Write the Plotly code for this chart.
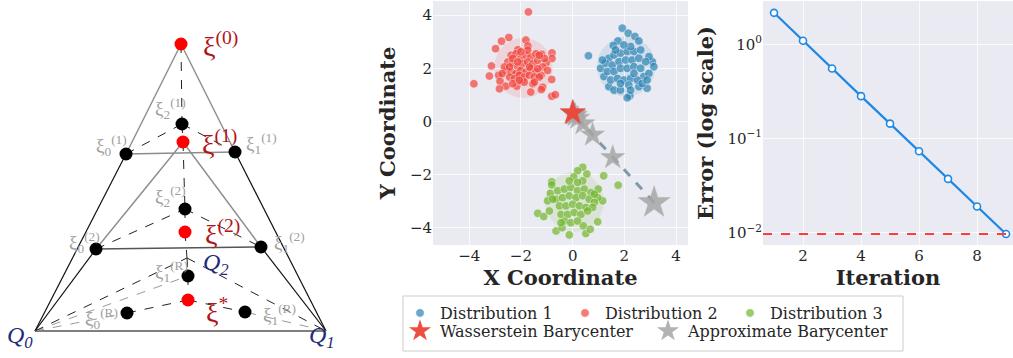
import plotly.graph_objects as go

# ---------------- data: scatter clusters ----------------
d1_x = [1.92, 2.15, 2.41, 2.56, 1.75, 1.57, 0.61, 1.08, 1.21, 1.40, 1.60, 1.85, 2.21, 2.11, 2.56, 2.88,
        3.08, 3.14, 2.95, 2.75, 2.95, 1.40, 1.60, 1.85, 2.11, 2.37, 2.63, 1.27, 1.53, 1.79, 2.05, 2.30,
        2.56, 2.82, 1.34, 1.60, 1.85, 2.11, 2.37, 2.63, 1.47, 1.73, 1.98, 2.24, 2.50, 2.69, 1.85, 2.17,
        2.37, 1.66, 2.24, 1.98, 1.15, 2.88, 2.24]
d1_y = [3.51, 3.32, 3.20, 3.03, 3.03, 2.86, 2.47, 2.00, 1.69, 1.31, 1.18, 1.18, 0.97, 0.89, 1.31, 1.25,
        2.25, 2.06, 2.44, 1.69, 1.81, 2.38, 2.50, 2.57, 2.63, 2.63, 2.69, 2.19, 2.12, 2.25, 2.31, 2.31,
        2.38, 2.25, 1.88, 1.88, 2.00, 2.00, 2.06, 2.00, 1.56, 1.62, 1.56, 1.62, 1.56, 1.43, 1.43, 1.37,
        1.81, 2.69, 2.82, 2.88, 2.31, 1.56, 1.18]

d2_x = [-1.71, -2.47, -2.75, -1.81, -2.98, -1.73, -2.12, -0.80, -0.80, -1.20, -3.14, -1.02, -3.22, -3.82,
        -2.86, -2.81, -2.58, -2.83, -2.16, -1.62, -1.16, -1.21, -0.81, -0.81, -0.67, -2.00, -1.94,
        -2.38, -2.19, -2.00, -1.80, -1.61, -1.42, -2.51, -2.32, -2.12, -1.93, -1.74, -1.54, -1.35, -1.16,
        -2.57, -2.38, -2.19, -2.00, -1.80, -1.61, -1.42, -1.22, -2.44, -2.25, -2.06, -1.87, -1.67, -1.48,
        -1.29, -2.64, -1.35, -1.54, -1.87, -2.32, -2.73, -1.74, -2.00, -2.32, -0.97, -1.09, -2.12, -1.67,
        -2.44, -1.48, -2.06, -1.29]
d2_y = [4.12, 3.16, 3.02, 3.06, 2.74, 2.84, 2.70, 2.58, 2.37, 2.53, 2.09, 2.21, 1.71, 1.42,
        1.74, 1.51, 1.33, 1.23, 1.33, 1.11, 1.29, 1.20, 1.58, 0.95, 1.01, 1.51, 1.58,
        2.49, 2.55, 2.37, 2.49, 2.43, 2.55, 2.24, 2.18, 2.05, 2.18, 2.24, 2.18, 2.30, 2.05,
        1.92, 1.86, 1.80, 1.92, 1.86, 1.99, 1.86, 1.74, 1.67, 1.61, 1.74, 1.67, 1.74, 1.67,
        1.67, 2.05, 1.99, 1.42, 1.48, 1.42, 1.80, 2.68, 2.62, 2.37, 1.92, 2.37, 2.24, 2.05,
        2.05, 1.48, 1.55, 2.49]

d3_x = [0.39, 0.19, 0.55, 0.04, 1.20, 1.76, -0.81, -0.81, -1.35, -1.12, -0.90, -0.64, -0.41, -0.13,
        0.51, 0.41, 0.68, 0.97, 1.16, 0.97, 0.99, -0.86, -0.97, -0.58, -0.32, -0.07, 0.19, 0.45, 0.71,
        -0.64, -0.39, -0.13, 0.13, 0.39, 0.64, 0.84, -0.51, -0.26, 0.00, 0.26, 0.51, 0.77, -0.45, -0.19,
        0.06, 0.32, 0.58, -0.32, -0.07, 0.19, -0.45, 0.39, -0.13, 0.19, -0.77, 0.84]
d3_y = [-1.72, -1.85, -1.97, -2.08, -2.04, -2.39, -2.26, -2.38, -3.45, -3.57, -3.36, -4.11, -3.99, -4.26,
        -4.21, -3.92, -4.05, -3.77, -2.98, -2.86, -2.54, -2.70, -2.98, -2.60, -2.54, -2.48, -2.60, -2.54,
        -2.67, -2.92, -2.86, -2.79, -2.86, -2.79, -2.92, -3.04, -3.17, -3.17, -3.11, -3.17, -3.23, -3.23,
        -3.49, -3.49, -3.42, -3.49, -3.36, -3.74, -3.80, -3.74, -3.80, -2.23, -2.23, -2.29, -2.92, -2.73]

wb_x = [0.0]
wb_y = [0.33]
ab_x = [3.15, 1.55, 0.77, 0.40, 0.20, 0.10, 0.05, 0.025, 0.012]
ab_y = [-3.05, -1.35, -0.50, -0.08, 0.13, 0.23, 0.28, 0.31, 0.32]
ab_sizes = [24, 18, 18, 18, 18, 18, 18, 18, 18]

# ---------------- data: convergence ----------------
iterations = [1, 2, 3, 4, 5, 6, 7, 8, 9]
errors = [2.16, 1.09, 0.553, 0.282, 0.144, 0.0733, 0.0373, 0.019, 0.0097]
tolerance = 0.0097
log_tickvals = [0.01, 0.1, 1]
log_ticktext = ["10<sup>\u22122</sup>", "10<sup>\u22121</sup>", "10<sup>0</sup>"]

# ---------------- data: diagram (pixel-like coordinates) ----------------
nodes = {
    "A0": (181, 44), "B2": (182, 124), "R1": (183, 142), "B0": (126, 154), "B1": (235, 152),
    "C2": (185, 209), "R2": (185, 232), "C0": (96, 249), "C1": (261, 247),
    "Q2": (187, 258), "D2": (188, 276), "RS": (188, 300), "D0": (127, 313), "D1": (245, 312),
    "Q0": (35, 331), "Q1": (326, 331),
}
red_nodes = ["A0", "R1", "R2", "RS"]
black_nodes = ["B2", "B0", "B1", "C2", "C0", "C1", "D2", "D0", "D1"]
edges_gray = [("A0", "B0"), ("A0", "B1"), ("R1", "C0"), ("R1", "C1"), ("B0", "B1")]
edges_dark = [("C0", "C1"), ("Q0", "Q1")]
edges_black = [("B0", "Q0"), ("B1", "Q1"), ("C0", "Q0"), ("C1", "Q1")]
edges_dash = [("A0", "B2"), ("B2", "R1"), ("B0", "B2"), ("B2", "B1"), ("R1", "C2"), ("C2", "R2"),
              ("C0", "C2"), ("C2", "C1"), ("R2", "Q2"), ("Q2", "D2"), ("D2", "RS"), ("D0", "RS"),
              ("RS", "D1"), ("Q0", "Q2"), ("Q2", "Q1")]
edges_graydash = [("Q0", "D0"), ("Q1", "D1"), ("Q0", "D2")]

red_labels = [("\u03be<sup>(0)</sup>", 220, 44), ("\u03be<sup>(1)</sup>", 219, 142),
              ("\u03be<sup>(2)</sup>", 222, 232), ("\u03be<sup>*</sup>", 217, 310)]
gray_labels = [("\u03be<sub>2</sub><sup>(1)</sup>", 170, 108), ("\u03be<sub>0</sub><sup>(1)</sup>", 111, 145),
               ("\u03be<sub>1</sub><sup>(1)</sup>", 261, 143), ("\u03be<sub>2</sub><sup>(2)</sup>", 170, 196),
               ("\u03be<sub>0</sub><sup>(2)</sup>", 84, 242), ("\u03be<sub>1</sub><sup>(2)</sup>", 289, 242),
               ("\u03be<sub>1</sub><sup>(R)</sup>", 171, 271), ("\u03be<sub>0</sub><sup>(R)</sup>", 101, 318),
               ("\u03be<sub>1</sub><sup>(R)</sup>", 279, 314)]
q_labels = [("Q<sub>0</sub>", 20, 337), ("Q<sub>1</sub>", 322, 337), ("Q<sub>2</sub>", 216, 264)]

# ---------------- styles ----------------
BG = "#EAEAF2"
GRID = "rgba(255,255,255,0.75)"
TXT = "#262626"
C_BLUE = "#2C84B4"
C_RED = "#F2453D"
C_GREEN = "#73B62E"
FONT = "DejaVu Serif"
cluster_radius = 1.1

fig = go.Figure()

# middle panel: clusters
for name, xs, ys, col in [("Distribution 1", d1_x, d1_y, C_BLUE),
                          ("Distribution 2", d2_x, d2_y, C_RED),
                          ("Distribution 3", d3_x, d3_y, C_GREEN)]:
    fig.add_trace(go.Scatter(x=xs, y=ys, mode="markers", name=name, legend="legend",
                             marker=dict(size=8.5, color=col, opacity=0.7,
                                         line=dict(color="white", width=0.6)),
                             xaxis="x", yaxis="y"))
    cx = sum(xs) / len(xs)
    cy = sum(ys) / len(ys)
    fig.add_shape(type="circle", xref="x", yref="y", x0=cx - cluster_radius, x1=cx + cluster_radius,
                  y0=cy - cluster_radius, y1=cy + cluster_radius, layer="below",
                  fillcolor=col, opacity=0.12, line=dict(color=col, width=1.5))

fig.add_trace(go.Scatter(x=ab_x + wb_x, y=ab_y + wb_y, mode="lines", showlegend=False,
                         line=dict(color="#6F8A9A", width=3, dash="dash"), opacity=0.85,
                         xaxis="x", yaxis="y"))
fig.add_trace(go.Scatter(x=ab_x, y=ab_y, mode="markers", name="Approximate Barycenter", legend="legend2",
                         marker=dict(symbol="star", size=ab_sizes, color="#A6A6A6", opacity=0.85,
                                     line=dict(color="#A6A6A6", width=0.5)),
                         xaxis="x", yaxis="y"))
fig.add_trace(go.Scatter(x=wb_x, y=wb_y, mode="markers", name="Wasserstein Barycenter", legend="legend2",
                         marker=dict(symbol="star", size=19, color="#EE4538", opacity=0.95,
                                     line=dict(color="#EE4538", width=0.5)),
                         xaxis="x", yaxis="y"))

# right panel: convergence
fig.add_trace(go.Scatter(x=iterations, y=errors, mode="lines+markers", showlegend=False,
                         line=dict(color="#1E88E5", width=2.2),
                         marker=dict(size=7, color="white", line=dict(color="#1E88E5", width=1.6)),
                         xaxis="x2", yaxis="y2"))
fig.add_shape(type="line", xref="x2 domain", yref="y2", x0=0, x1=1, y0=tolerance, y1=tolerance,
              line=dict(color="#FF3B3B", width=2, dash="dash"))

# left panel: diagram
fig.add_shape(type="rect", xref="x3 domain", yref="y3 domain", x0=0, x1=1, y0=0, y1=1,
              fillcolor="white", line=dict(width=0), layer="below")


def edge_xy(edges):
    xs, ys = [], []
    for a, b in edges:
        xs += [nodes[a][0], nodes[b][0], None]
        ys += [nodes[a][1], nodes[b][1], None]
    return xs, ys


for edges, col, w, dash in [(edges_gray, "#8C8C8C", 1.4, "solid"), (edges_dark, "#555555", 1.4, "solid"),
                            (edges_black, "#111111", 1.2, "solid"), (edges_graydash, "#9A9A9A", 1.0, "dash"),
                            (edges_dash, "#222222", 1.0, "dash")]:
    ex, ey = edge_xy(edges)
    fig.add_trace(go.Scatter(x=ex, y=ey, mode="lines", showlegend=False, hoverinfo="skip",
                             line=dict(color=col, width=w, dash=dash), xaxis="x3", yaxis="y3"))

fig.add_trace(go.Scatter(x=[nodes[n][0] for n in black_nodes], y=[nodes[n][1] for n in black_nodes],
                         mode="markers", showlegend=False, marker=dict(size=13, color="black"),
                         xaxis="x3", yaxis="y3"))
fig.add_trace(go.Scatter(x=[nodes[n][0] for n in red_nodes], y=[nodes[n][1] for n in red_nodes],
                         mode="markers", showlegend=False, marker=dict(size=13, color="#FF0000"),
                         xaxis="x3", yaxis="y3"))

for t, x, y in red_labels:
    fig.add_annotation(text=t, x=x, y=y, xref="x3", yref="y3", showarrow=False,
                       font=dict(family="Liberation Serif", size=28, color="#B01515"))
for t, x, y in gray_labels:
    fig.add_annotation(text=t, x=x, y=y, xref="x3", yref="y3", showarrow=False,
                       font=dict(family="Liberation Serif", size=19, color="#A0A0A0"))
for t, x, y in q_labels:
    fig.add_annotation(text="<i>" + t + "</i>", x=x, y=y, xref="x3", yref="y3", showarrow=False,
                       font=dict(family="Liberation Serif", size=24, color="#1F2A78"))

# legend box
fig.add_shape(type="rect", xref="paper", yref="paper", x0=403 / 1013, x1=903 / 1013,
              y0=1 - 351 / 358, y1=1 - 296 / 358, fillcolor="white",
              line=dict(color="#CCCCCC", width=1), layer="below")

axis_common = dict(showline=False, zeroline=False, ticks="", gridcolor=GRID, gridwidth=1,
                   tickfont=dict(family=FONT, size=15, color=TXT))
title_font = dict(family=FONT, size=21, color=TXT)

fig.update_layout(
    width=1013, height=358, margin=dict(l=0, r=0, t=0, b=0),
    paper_bgcolor="white", plot_bgcolor=BG,
    xaxis=dict(domain=[433 / 1013, 688 / 1013], range=[-5.4, 4.46], tickvals=[-4, -2, 0, 2, 4],
               title=dict(text="<b>X Coordinate</b>", font=title_font, standoff=4), anchor="y",
               **axis_common),
    yaxis=dict(domain=[1 - 245 / 358, 1 - 1 / 358], range=[-4.64, 4.53], tickvals=[-4, -2, 0, 2, 4],
               title=dict(text="<b>Y Coordinate</b>", font=title_font, standoff=8), anchor="x",
               **axis_common),
    xaxis2=dict(domain=[763 / 1013, 1.0], range=[0.62, 9.24], tickvals=[2, 4, 6, 8],
                title=dict(text="<b>Iteration</b>", font=title_font, standoff=4), anchor="y2",
                **axis_common),
    yaxis2=dict(domain=[1 - 245 / 358, 1 - 1 / 358], type="log", range=[-2.13, 0.46],
                tickvals=log_tickvals, ticktext=log_ticktext,
                title=dict(text="<b>Error (log scale)</b>", font=title_font, standoff=8), anchor="x2",
                **axis_common),
    xaxis3=dict(domain=[0, 340 / 1013], range=[0, 340], visible=False, anchor="y3"),
    yaxis3=dict(domain=[0, 1], range=[358, 0], visible=False, anchor="x3"),
    legend=dict(orientation="h", x=400 / 1013, y=1 - 296 / 358, xanchor="left", yanchor="top",
                bgcolor="rgba(0,0,0,0)", font=dict(family=FONT, size=16, color=TXT),
                entrywidth=120, entrywidthmode="pixels", itemwidth=30),
    legend2=dict(orientation="h", x=400 / 1013, y=1 - 314 / 358, xanchor="left", yanchor="top",
                 bgcolor="rgba(0,0,0,0)", font=dict(family=FONT, size=16, color=TXT),
                 entrywidth=203, entrywidthmode="pixels", itemwidth=30, traceorder="reversed",
                 itemsizing="constant"),
    showlegend=True,
)

fig.write_html("out.html", config={"displayModeBar": False},
               post_script="document.body.style.margin='0';")
